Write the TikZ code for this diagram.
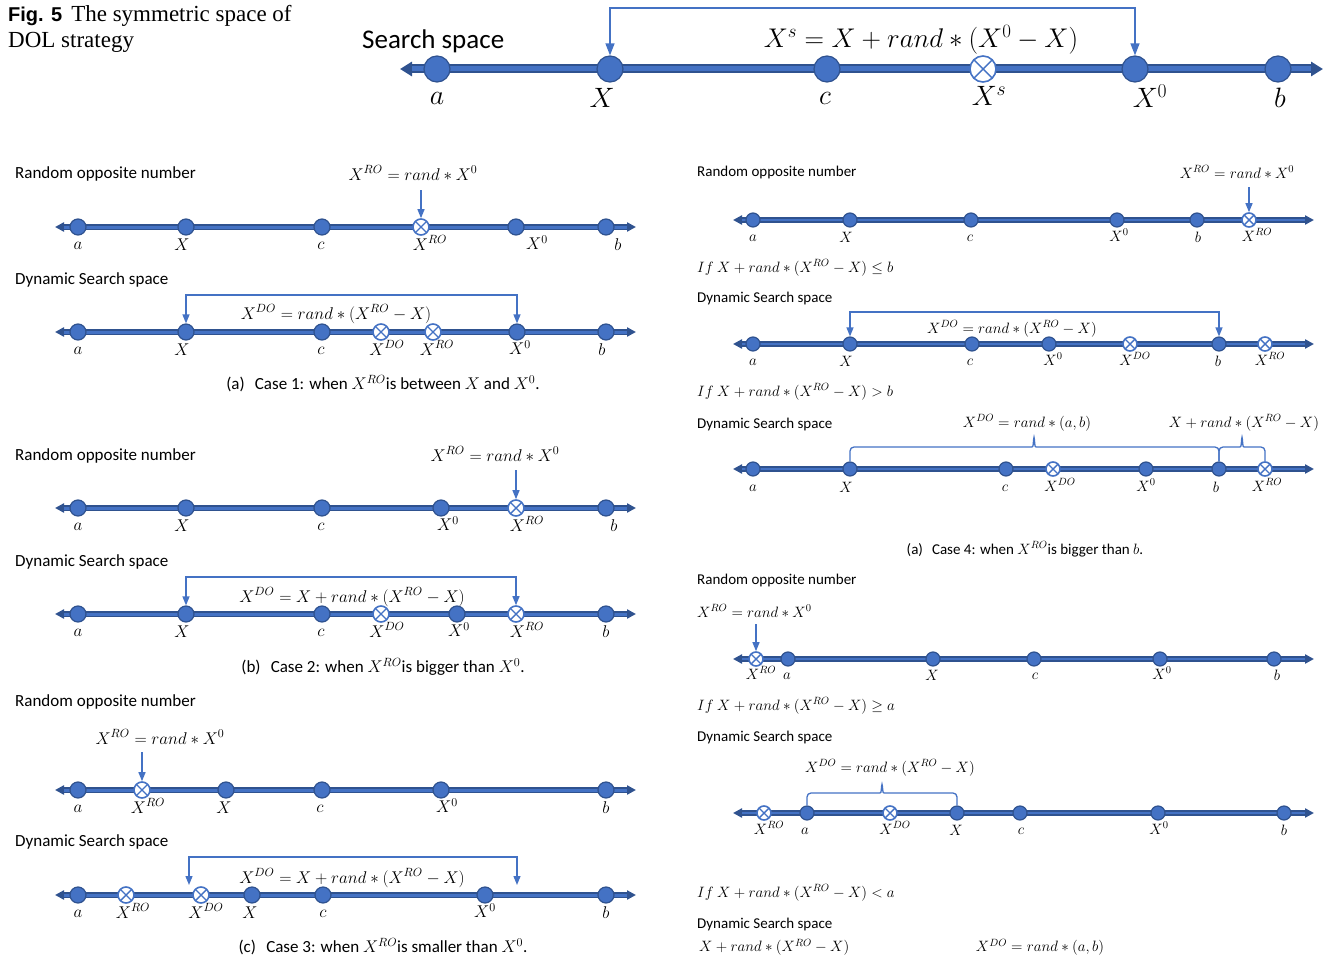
\RequirePackage{fix-cm}
\documentclass[tikz,border=0pt]{standalone}
\usepackage[no-math]{fontspec}
\setmainfont{Liberation Serif}
\newfontfamily\sansc{Carlito}
\newfontfamily\figsans{Liberation Sans}
\usetikzlibrary{arrows.meta,calc}
\definecolor{axfill}{HTML}{4472C4}
\definecolor{axedge}{HTML}{2F528F}
\definecolor{connc}{HTML}{4472C4}
\tikzset{
 txtL/.style={font=\sansc\fontsize{17}{20}\selectfont, anchor=west, inner sep=0},
 txtR/.style={font=\sansc\fontsize{15}{18}\selectfont, anchor=west, inner sep=0},
 capL/.style={font=\sansc\fontsize{17}{20}\selectfont, inner sep=0},
 capR/.style={font=\sansc\fontsize{15}{18}\selectfont, inner sep=0},
 mL/.style={font=\fontsize{17}{20}\selectfont, inner sep=0},
 mR/.style={font=\fontsize{15}{18}\selectfont, inner sep=0},
 mT/.style={font=\fontsize{28}{32}\selectfont, inner sep=0},
 dot/.style={circle, fill=axfill, draw=axedge, line width=1.2, inner sep=0, minimum size=#1},
 xdot/.style={circle, fill=white, draw=axfill, line width=1.6, inner sep=0, minimum size=#1,
   path picture={\draw[axfill,line width=1.4] (path picture bounding box.north west) -- (path picture bounding box.south east)
     (path picture bounding box.north east) -- (path picture bounding box.south west);}},
 conn/.style={draw=connc, line width=1.3},
 arr/.style={conn, -{Triangle[length=9pt,width=7pt]}},
 barr/.style={conn, {Triangle[length=9pt,width=7pt]}-{Triangle[length=9pt,width=7pt]}},
 axout/.style={draw=axedge, line width=#1, {Triangle[length=9pt,width=9pt]}-{Triangle[length=9pt,width=9pt]}},
 axin/.style={draw=axfill, line width=#1},
}
\newcommand{\pdot}[4]{\node[dot=#4] (#1) at (#2,#3) {};}
\newcommand{\xpdot}[4]{\node[xdot=#4] (#1) at (#2,#3) {};}
\newcommand{\plab}[5]{\node[#5] (#1) at (#2,#3) {$#4$};}
\newcommand{\axisln}[6]{%
 \coordinate (#1l) at (#2,#4); \coordinate (#1r) at (#3,#4);
 \draw[axout=#5] (#1l) -- (#1r);
 \draw[axin=#6] ($(#1l)+(9,0)$) -- ($(#1r)-(9,0)$);}
\begin{document}
\begin{tikzpicture}[x=1pt,y=-1pt]
\useasboundingbox (0,0) rectangle (1331,958);
\clip (0,0) rectangle (1331,958);
% ---------- title ----------
\node[anchor=west, inner sep=0, font=\fontsize{23}{26}\selectfont] (title1) at (8,16)
 {{\figsans\bfseries\fontsize{20}{24}\selectfont Fig. 5}\hspace{9pt}The symmetric space of};
\node[anchor=west, inner sep=0, font=\fontsize{23}{26}\selectfont] (title2) at (8,42) {DOL strategy};
% ---------- top panel ----------
\node[anchor=west, inner sep=0, font=\sansc\fontsize{27}{30}\selectfont] (tsearch) at (362,41) {Search space};
\node[inner sep=0, font=\fontsize{27}{30}\selectfont] (tform) at (921,40) {$X^s = X + rand * (X^0 - X)$};
\coordinate (tl) at (400,69); \coordinate (tr) at (1323,69);
\draw[draw=axedge, line width=9, {Triangle[length=12pt,width=14pt]}-{Triangle[length=12pt,width=14pt]}] (tl) -- (tr);
\draw[axin=5] ($(tl)+(12,0)$) -- ($(tr)-(12,0)$);
\pdot{ta}{437}{69}{26} \pdot{tX}{610}{69}{26} \pdot{tc}{827}{69}{26}
\xpdot{tXs}{983}{69}{26} \pdot{tX0}{1135}{69}{26} \pdot{tb}{1278}{69}{26}
\plab{tal}{437}{98}{a}{mT} \plab{tXl}{602}{98}{X}{mT} \plab{tcl}{825}{98}{c}{mT}
\plab{tXsl}{989}{96}{X^s}{mT} \plab{tX0l}{1150}{96}{X^0}{mT} \plab{tbl}{1280}{98}{b}{mT}
\coordinate (ttop) at (0,8);
\draw[conn, {Triangle[length=12pt,width=9pt]}-{Triangle[length=12pt,width=9pt]}] (tX.north) -- (tX.north |- ttop) -- (tX0.north |- ttop) -- (tX0.north);
% ---------- Case 1 ----------
\node[txtL] (Atxt) at (15,174) {Random opposite number};
\node[mL] (Aform) at (413,173) {$X^{RO} = rand * X^0$};
\axisln{Aax}{55}{636}{227}{6}{3}
\pdot{Aa}{78}{227}{16} \pdot{AX}{186}{227}{16} \pdot{Ac}{322}{227}{16}
\xpdot{ARO}{421}{227}{16} \pdot{AX0}{516}{227}{16} \pdot{Ab}{606}{227}{16}
\plab{Aal}{78}{246}{a}{mL} \plab{AXl}{182}{245}{X}{mL} \plab{Acl}{321}{246}{c}{mL}
\plab{AROl}{430}{243}{X^{RO}}{mL} \plab{AX0l}{537}{243}{X^0}{mL} \plab{Abl}{618}{245}{b}{mL}
\coordinate (Aas) at (421,190);
\draw[arr] (Aas) -- (ARO.north);
\node[txtL] (Btxt) at (15,280) {Dynamic Search space};
\node[mL] (Bform) at (336,314) {$X^{DO} = rand * (X^{RO} - X)$};
\axisln{Bax}{55}{636}{332}{6}{3}
\pdot{Ba}{78}{332}{16} \pdot{BX}{186}{332}{16} \pdot{Bc}{322}{332}{16}
\xpdot{BDO}{381}{332}{16} \xpdot{BRO}{433}{332}{16} \pdot{BX0}{517}{332}{16} \pdot{Bb}{606}{332}{16}
\plab{Bal}{78}{351}{a}{mL} \plab{BXl}{182}{350}{X}{mL} \plab{Bcl}{321}{351}{c}{mL}
\plab{BDOl}{387}{348}{X^{DO}}{mL} \plab{BROl}{437}{348}{X^{RO}}{mL} \plab{BX0l}{520}{348}{X^0}{mL} \plab{Bbl}{602}{350}{b}{mL}
\coordinate (Btop) at (0,295);
\draw[barr] (BX.north) -- (BX.north |- Btop) -- (BX0.north |- Btop) -- (BX0.north);
\node[capL] (Acap) at (383,384) {(a)\hspace{0.6em}Case 1: when $X^{RO}$is between $X$ and $X^0$.};
% ---------- Case 2 ----------
\node[txtL] (Ctxt) at (15,456) {Random opposite number};
\node[mL] (Cform) at (495,454) {$X^{RO} = rand * X^0$};
\axisln{Cax}{55}{636}{508}{6}{3}
\pdot{Ca}{78}{508}{16} \pdot{CX}{186}{508}{16} \pdot{Cc}{322}{508}{16}
\pdot{CX0}{441}{508}{16} \xpdot{CRO}{516}{508}{16} \pdot{Cb}{606}{508}{16}
\plab{Cal}{78}{527}{a}{mL} \plab{CXl}{182}{526}{X}{mL} \plab{Ccl}{321}{527}{c}{mL}
\plab{CX0l}{448}{524}{X^0}{mL} \plab{CROl}{527}{524}{X^{RO}}{mL} \plab{Cbl}{614}{526}{b}{mL}
\coordinate (Cas) at (516,470);
\draw[arr] (Cas) -- (CRO.north);
\node[txtL] (Dtxt) at (15,562) {Dynamic Search space};
\node[mL] (Dform) at (352,597) {$X^{DO} = X + rand * (X^{RO} - X)$};
\axisln{Dax}{55}{636}{614}{6}{3}
\pdot{Da}{78}{614}{16} \pdot{DX}{186}{614}{16} \pdot{Dc}{322}{614}{16}
\xpdot{DDO}{381}{614}{16} \pdot{DX0}{457}{614}{16} \xpdot{DRO}{516}{614}{16} \pdot{Db}{606}{614}{16}
\plab{Dal}{78}{633}{a}{mL} \plab{DXl}{182}{632}{X}{mL} \plab{Dcl}{321}{633}{c}{mL}
\plab{DDOl}{387}{630}{X^{DO}}{mL} \plab{DX0l}{459}{630}{X^0}{mL} \plab{DROl}{527}{630}{X^{RO}}{mL} \plab{Dbl}{606}{632}{b}{mL}
\coordinate (Dtop) at (0,577);
\draw[barr] (DX.north) -- (DX.north |- Dtop) -- (DRO.north |- Dtop) -- (DRO.north);
\node[capL] (Ccap) at (383,667) {(b)\hspace{0.6em}Case 2: when $X^{RO}$is bigger than $X^0$.};
% ---------- Case 3 ----------
\node[txtL] (Etxt) at (15,702) {Random opposite number};
\node[mL] (Eform) at (160,737) {$X^{RO} = rand * X^0$};
\axisln{Eax}{55}{636}{790}{6}{3}
\pdot{Ea}{78}{790}{16} \xpdot{ERO}{142}{790}{16} \pdot{EX}{226}{790}{16}
\pdot{Ec}{322}{790}{16} \pdot{EX0}{441}{790}{16} \pdot{Eb}{606}{790}{16}
\plab{Eal}{78}{809}{a}{mL} \plab{EROl}{148}{806}{X^{RO}}{mL} \plab{EXl}{224}{808}{X}{mL}
\plab{Ecl}{320}{809}{c}{mL} \plab{EX0l}{447}{806}{X^0}{mL} \plab{Ebl}{606}{808}{b}{mL}
\coordinate (Eas) at (142,752);
\draw[arr] (Eas) -- (ERO.north);
\node[txtL] (Ftxt) at (15,842) {Dynamic Search space};
\node[mL] (Fform) at (352,878) {$X^{DO} = X + rand * (X^{RO} - X)$};
\axisln{Fax}{55}{636}{895}{6}{3}
\pdot{Fa}{78}{895}{16} \xpdot{FRO}{126}{895}{16} \xpdot{FDO}{201}{895}{16} \pdot{FX}{252}{895}{16}
\pdot{Fc}{323}{895}{16} \pdot{FX0}{485}{895}{16} \pdot{Fb}{606}{895}{16}
\plab{Fal}{78}{914}{a}{mL} \plab{FROl}{133}{911}{X^{RO}}{mL} \plab{FDOl}{206}{911}{X^{DO}}{mL} \plab{FXl}{250}{913}{X}{mL}
\plab{Fcl}{323}{914}{c}{mL} \plab{FX0l}{485}{911}{X^0}{mL} \plab{Fbl}{606}{913}{b}{mL}
\coordinate (Fl) at (189,885); \coordinate (Fr) at (517,885); \coordinate (Ftop) at (0,857);
\draw[barr] (Fl) -- (Fl |- Ftop) -- (Fr |- Ftop) -- (Fr);
\node[capL] (Ecap) at (383,947) {(c)\hspace{0.6em}Case 3: when $X^{RO}$is smaller than $X^0$.};
% ---------- Case 4 (right) ----------
\node[txtR] (Gtxt) at (697,173) {Random opposite number};
\node[mR] (Gform) at (1237,172) {$X^{RO} = rand * X^0$};
\axisln{Gax}{733}{1314}{220}{5.5}{2.8}
\pdot{Ga}{753}{220}{14} \pdot{GX}{850}{220}{14} \pdot{Gc}{971}{220}{14}
\pdot{GX0}{1117}{220}{14} \pdot{Gb}{1197}{220}{14} \xpdot{GRO}{1249}{220}{14}
\plab{Gal}{753}{238}{a}{mR} \plab{GXl}{846}{237}{X}{mR} \plab{Gcl}{970}{238}{c}{mR}
\plab{GX0l}{1119}{235}{X^0}{mR} \plab{Gbl}{1198}{237}{b}{mR} \plab{GROl}{1257}{235}{X^{RO}}{mR}
\coordinate (Gas) at (1249,187);
\draw[arr] (Gas) -- (GRO.north);
\node[txtR] (Gif) at (697,268) {$If\ X + rand * (X^{RO} - X) \le b$};
\node[txtR] (Htxt) at (697,298) {Dynamic Search space};
\node[mR] (Hform) at (1012,329) {$X^{DO} = rand * (X^{RO} - X)$};
\axisln{Hax}{733}{1314}{344}{5.5}{2.8}
\pdot{Ha}{753}{344}{14} \pdot{HX}{850}{344}{14} \pdot{Hc}{972}{344}{14} \pdot{HX0}{1049}{344}{14}
\xpdot{HDO}{1130}{344}{14} \pdot{Hb}{1219}{344}{14} \xpdot{HRO}{1265}{344}{14}
\plab{Hal}{753}{362}{a}{mR} \plab{HXl}{846}{361}{X}{mR} \plab{Hcl}{970}{362}{c}{mR} \plab{HX0l}{1053}{359}{X^0}{mR}
\plab{HDOl}{1135}{359}{X^{DO}}{mR} \plab{Hbl}{1218}{361}{b}{mR} \plab{HROl}{1270}{359}{X^{RO}}{mR}
\coordinate (Htop) at (0,312);
\draw[barr] (HX.north) -- (HX.north |- Htop) -- (Hb.north |- Htop) -- (Hb.north);
\node[txtR] (Hif) at (697,392) {$If\ X + rand * (X^{RO} - X) > b$};
\node[txtR] (Itxt) at (697,424) {Dynamic Search space};
\node[mR] (Iform1) at (1027,423) {$X^{DO} = rand * (a,b)$};
\node[mR] (Iform2) at (1244,423) {$X + rand * (X^{RO} - X)$};
\axisln{Iax}{733}{1314}{469}{5.5}{2.8}
\pdot{Ia}{753}{469}{14} \pdot{IX}{850}{469}{14} \pdot{Ic}{1006}{469}{14} \xpdot{IDO}{1053}{469}{14}
\pdot{IX0}{1146}{469}{14} \pdot{Ib}{1219}{469}{14} \xpdot{IRO}{1265}{469}{14}
\plab{Ial}{753}{488}{a}{mR} \plab{IXl}{846}{487}{X}{mR} \plab{Icl}{1005}{488}{c}{mR} \plab{IDOl}{1060}{485}{X^{DO}}{mR}
\plab{IX0l}{1146}{485}{X^0}{mR} \plab{Ibl}{1216}{487}{b}{mR} \plab{IROl}{1267}{485}{X^{RO}}{mR}
\draw[conn, rounded corners=4] (IX.north) -- (850,447) -- (1028,447) .. controls (1033,447) .. (1034,435)
  .. controls (1035,447) .. (1040,447) -- (1219,447) -- (Ib.north);
\draw[conn, rounded corners=4] (Ib.north) -- (1219,447) -- (1236,447) .. controls (1241,447) .. (1242,435)
  .. controls (1243,447) .. (1248,447) -- (1265,447) -- (IRO.north);
\node[capR] (Gcap) at (1025,549) {(a)\hspace{0.6em}Case 4: when $X^{RO}$is bigger than $b$.};
% ---------- Case 5 (right) ----------
\node[txtR] (Jtxt) at (697,580) {Random opposite number};
\node[mR, anchor=west] (Jform) at (697,611) {$X^{RO} = rand * X^0$};
\axisln{Jax}{733}{1314}{659}{5.5}{2.8}
\xpdot{JRO}{756}{659}{14} \pdot{Ja}{788}{659}{14} \pdot{JX}{933}{659}{14}
\pdot{Jc}{1034}{659}{14} \pdot{JX0}{1160}{659}{14} \pdot{Jb}{1274}{659}{14}
\plab{JROl}{761}{673}{X^{RO}}{mR} \plab{Jal}{787}{676}{a}{mR} \plab{JXl}{932}{675}{X}{mR}
\plab{Jcl}{1035}{676}{c}{mR} \plab{JX0l}{1162}{673}{X^0}{mR} \plab{Jbl}{1277}{675}{b}{mR}
\coordinate (Jas) at (756,624);
\draw[arr] (Jas) -- (JRO.north);
\node[txtR] (Jif) at (697,706) {$If\ X + rand * (X^{RO} - X) \ge a$};
\node[txtR] (Ktxt) at (697,737) {Dynamic Search space};
\node[mR] (Kform) at (890,768) {$X^{DO} = rand * (X^{RO} - X)$};
\axisln{Kax}{733}{1314}{813}{5.5}{2.8}
\xpdot{KRO}{764}{813}{14} \pdot{Ka}{807}{813}{14} \xpdot{KDO}{890}{813}{14} \pdot{KX}{957}{813}{14}
\pdot{Kc}{1020}{813}{14} \pdot{KX0}{1158}{813}{14} \pdot{Kb}{1284}{813}{14}
\plab{KROl}{769}{828}{X^{RO}}{mR} \plab{Kal}{805}{831}{a}{mR} \plab{KDOl}{895}{828}{X^{DO}}{mR} \plab{KXl}{956}{830}{X}{mR}
\plab{Kcl}{1021}{831}{c}{mR} \plab{KX0l}{1159}{828}{X^0}{mR} \plab{Kbl}{1284}{830}{b}{mR}
\draw[conn, rounded corners=4] (Ka.north) -- (807,793) -- (876,793) .. controls (881,793) .. (882,782)
  .. controls (883,793) .. (888,793) -- (957,793) -- (KX.north);
\node[txtR] (Kif) at (697,893) {$If\ X + rand * (X^{RO} - X) < a$};
\node[txtR] (Ltxt) at (697,924) {Dynamic Search space};
\node[mR, anchor=west] (Lform1) at (699,947) {$X + rand * (X^{RO} - X)$};
\node[mR] (Lform2) at (1040,947) {$X^{DO} = rand * (a,b)$};
\end{tikzpicture}
\end{document}
